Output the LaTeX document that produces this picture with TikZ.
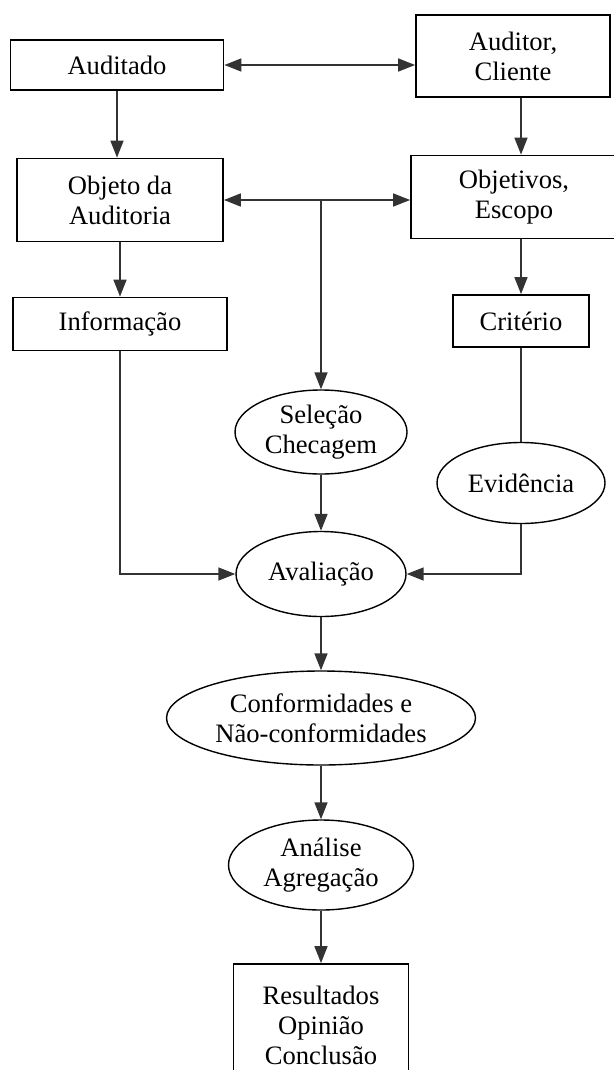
\documentclass[tikz,border=0pt]{standalone}
\usepackage{fontspec}
\setmainfont{Liberation Serif}
\usepackage{tikz}
\usetikzlibrary{shapes.geometric,arrows.meta}
\tikzset{%
  every box/.style={
    rectangle,
    draw,
    line width=0.9pt,
    inner sep=0pt,
    align=center,
    font=\fontsize{13.3}{15}\selectfont
  },
  every oval/.style={
    ellipse,
    draw,
    line width=0.7pt,
    inner sep=0pt,
    align=center,
    font=\fontsize{13.3}{15}\selectfont
  },
  link/.style={
    draw=black!80,
    line width=0.8pt
  },
}

\begin{document}
\begin{tikzpicture}[x=0.5pt, y=-0.5pt, >={Triangle[length=8.5pt,width=6.5pt]}]

    \clip (0,0) rectangle (614,1070);

    % left column
    \node [every box, minimum width=106.5pt, minimum height=25pt] (audited) at (117,65) {Auditado};
    \node [every box, minimum width=103pt, minimum height=41.5pt] (object) at (120,200) {Objeto da\\Auditoria};
    \node [every box, minimum width=107pt, minimum height=26.5pt] (info) at (120,324) {Informação};

    % right column
    \node [every box, minimum width=97pt, minimum height=41pt] (auditor) at (513,56) {Auditor,\\Cliente};
    \node [every box, minimum width=103pt, minimum height=41.5pt] (objectives) at (514,197) {Objetivos,\\Escopo};
    \node [every box, minimum width=68pt, minimum height=26pt] (criterion) at (521,321) {Critério};
    \node [every oval, minimum width=84pt, minimum height=40.5pt] (evidence) at (521,483) {Evidência};

    % middle column
    \node [every oval, minimum width=86pt, minimum height=42pt] (selection) at (321,432) {Seleção\\Checagem};
    \node [every oval, minimum width=85pt, minimum height=42.5pt] (evaluation) at (321,574) {Avaliação};
    \node [every oval, minimum width=154.5pt, minimum height=47pt] (conform) at (321,718) {Conformidades e\\Não-conformidades};
    \node [every oval, minimum width=92.5pt, minimum height=45pt] (analysis) at (321,865) {Análise\\Agregação};
    \node [every box, minimum width=87.5pt, minimum height=61pt] (results) at (321,1025) {Resultados\\Opinião\\Conclusão};

    \draw [link, <->] (audited.east) -- (audited.east -| auditor.west);
    \draw [link, <->] (object.east) -- (object.east -| objectives.west);
    \draw [link, ->] (object.east -| selection) -- (selection.north);

    \draw [link, ->] (audited.south) -- (audited.south |- object.north);
    \draw [link, ->] (object.south) -- (object.south |- info.north);
    \draw [link, ->] (auditor.south -| criterion) -- (objectives.north -| criterion);
    \draw [link, ->] (objectives.south -| criterion) -- (criterion.north);
    \draw [link] (criterion) -- (evidence);

    \draw [link, ->] (info.south) |- (evaluation.west);
    \draw [link, ->] (evidence.south) |- (evaluation.east);

    \foreach \a/\b in {selection/evaluation, evaluation/conform, conform/analysis, analysis/results}
        \draw [link, ->] (\a) -- (\b);

\end{tikzpicture}
\end{document}
